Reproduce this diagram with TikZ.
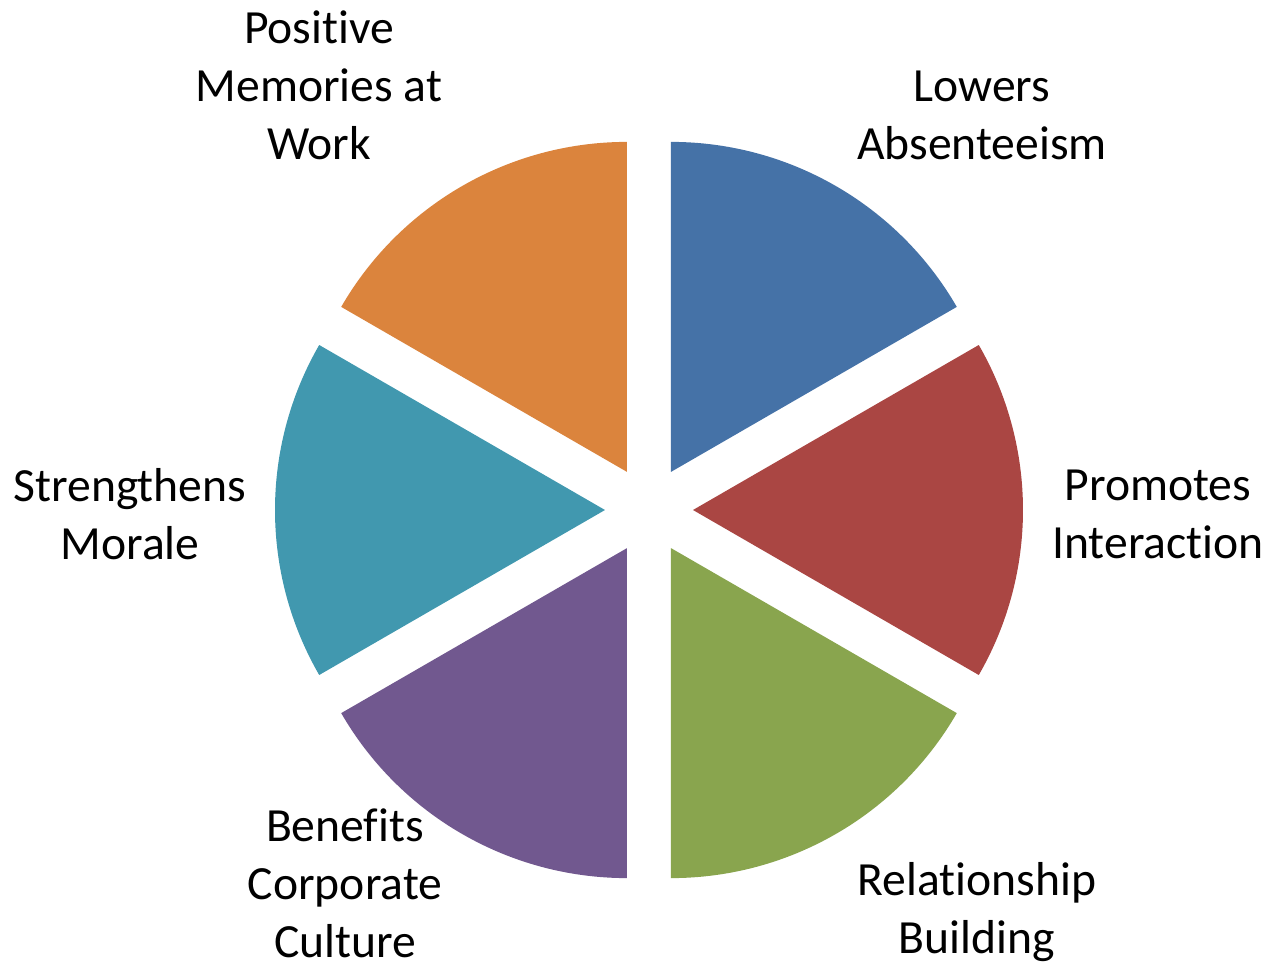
\documentclass[tikz,border=0pt]{standalone}
\usepackage{fontspec}
\setmainfont{Carlito}[Ligatures=NoCommon]
\usepackage{xcolor}
\usetikzlibrary{positioning}

\definecolor{sliceblue}{HTML}{4572A7}
\definecolor{slicered}{HTML}{AA4643}
\definecolor{slicegreen}{HTML}{89A54E}
\definecolor{slicepurple}{HTML}{71588F}
\definecolor{sliceteal}{HTML}{4198AF}
\definecolor{sliceorange}{HTML}{DB843D}

\begin{document}
\begin{tikzpicture}[
    x=0.02cm, y=0.02cm,
    label/.style={align=center, inner sep=0pt, font=\fontsize{27.1}{33}\selectfont},
    slice/.style={draw=none}
]
\useasboundingbox (-649,-454) rectangle (619,510);

% Pie slices: start angle, end angle, colour (each pushed out along its middle)
\foreach \a/\b/\c/\n in {30/90/sliceblue/blue, -30/30/slicered/red, -90/-30/slicegreen/green,
                        -150/-90/slicepurple/purple, 150/210/sliceteal/teal, 90/150/sliceorange/orange} {
    \coordinate (apex-\n) at ({(\a+\b)/2}:44);
    \fill[slice, fill=\c] (apex-\n) -- ++(\a:330) arc[start angle=\a, end angle=\b, radius=330] -- cycle;
}

% Labels
\node[label] (memories) at (-330,425) {Positive\\Memories at\\Work};
\node[label] (absence) at (333,395) {Lowers\\Absenteeism};
\node[label] (interaction) at (509,-4) {Promotes\\Interaction};
\node[label] (relation) at (328,-402) {Relationship\\Building};
\node[label] (culture) at (-304,-373) {Benefits\\Corporate\\Culture};
\node[label] (morale) at (-519,-4) {Strengthens\\Morale};

\end{tikzpicture}
\end{document}
